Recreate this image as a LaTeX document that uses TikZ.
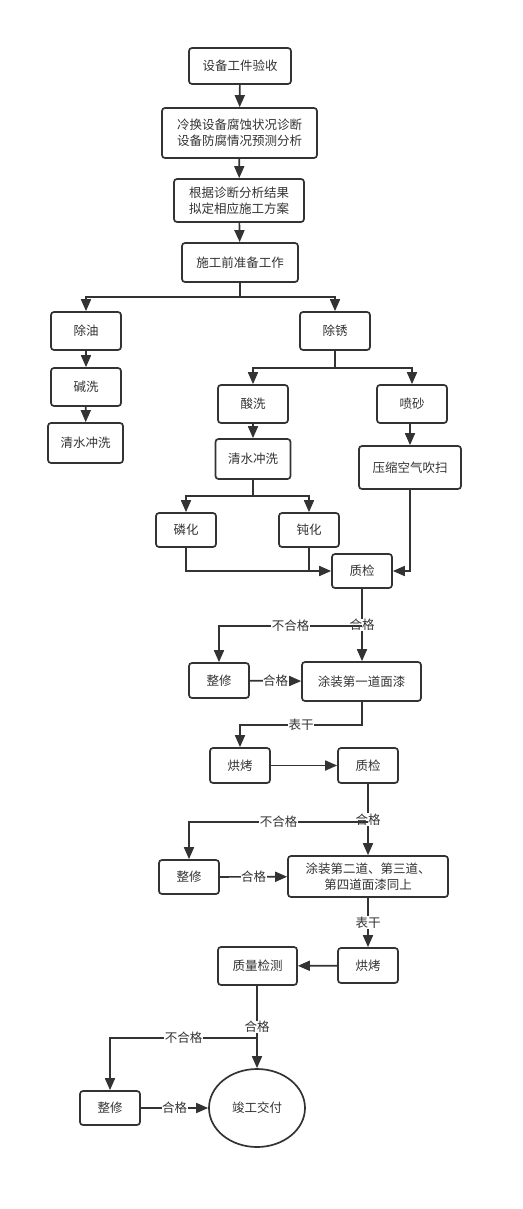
\documentclass[tikz,border=0pt]{standalone}
\usepackage{fontspec}
\setmainfont{Noto Sans CJK SC}
\usetikzlibrary{arrows.meta,shapes.geometric}
\definecolor{ln}{HTML}{333333}
\tikzset{
  box/.style={draw=ln, rounded corners=3pt, line width=1.7pt, inner sep=0pt, align=center,
    font=\fontsize{12.5}{16}\selectfont, text=ln},
  lab/.style={fill=white, inner sep=0.5pt, font=\fontsize{12.5}{15}\selectfont, text=ln},
  conn/.style={draw=ln, line width=1.7pt},
  arr/.style={conn, -{Triangle[length=12pt,width=10pt]}}
}
\begin{document}
\begin{tikzpicture}[x=1pt,y=-1pt]
\useasboundingbox (0,0) rectangle (522,1209);
\fill[white] (0,0) rectangle (522,1209);
% nodes
\node[box, minimum width=102pt, minimum height=36pt] (n1) at (240,66) {设备工件验收};
\node[box, minimum width=155pt, minimum height=50pt] (n2) at (239.5,133) {冷换设备腐蚀状况诊断\\设备防腐情况预测分析};
\node[box, minimum width=130pt, minimum height=43pt] (n3) at (239,200.5) {根据诊断分析结果\\拟定相应施工方案};
\node[box, minimum width=116pt, minimum height=39pt] (n4) at (240,262.5) {施工前准备工作};
\node[box, minimum width=70pt, minimum height=38pt] (cy) at (86,331) {除油};
\node[box, minimum width=70pt, minimum height=38pt] (jx) at (86,387) {碱洗};
\node[box, minimum width=75pt, minimum height=40pt] (qs1) at (85.5,443) {清水冲洗};
\node[box, minimum width=70pt, minimum height=38pt] (cx) at (335,331) {除锈};
\node[box, minimum width=70pt, minimum height=38pt] (sx) at (253,404) {酸洗};
\node[box, minimum width=70pt, minimum height=38pt] (ps) at (412,404) {喷砂};
\node[box, minimum width=75pt, minimum height=40pt] (qs2) at (253,459) {清水冲洗};
\node[box, minimum width=102pt, minimum height=43pt] (ys) at (410,467.5) {压缩空气吹扫};
\node[box, minimum width=60pt, minimum height=34pt] (lh) at (186,530) {磷化};
\node[box, minimum width=60pt, minimum height=34pt] (dh) at (309,530) {钝化};
\node[box, minimum width=60pt, minimum height=34pt] (zj1) at (362,571) {质检};
\node[box, minimum width=60pt, minimum height=35pt] (zx1) at (219,680.5) {整修};
\node[box, minimum width=119pt, minimum height=39pt] (tz1) at (361.5,681.5) {涂装第一道面漆};
\node[box, minimum width=60pt, minimum height=35pt] (hk1) at (240,765.5) {烘烤};
\node[box, minimum width=60pt, minimum height=35pt] (zj2) at (368,765.5) {质检};
\node[box, minimum width=60pt, minimum height=34pt] (zx2) at (189,877) {整修};
\node[box, minimum width=160pt, minimum height=41pt] (tz2) at (368,876.5) {涂装第二道、第三道、\\第四道面漆同上};
\node[box, minimum width=60pt, minimum height=35pt] (hk2) at (368,965.5) {烘烤};
\node[box, minimum width=79pt, minimum height=38pt] (zl) at (257.5,966) {质量检测};
\node[box, minimum width=60pt, minimum height=34pt] (zx3) at (110,1108) {整修};
\node[box, ellipse, minimum width=96pt, minimum height=78pt] (jg) at (257,1108) {竣工交付};
% branch points
\coordinate (b1) at (240,297);
\coordinate (b2) at (335,368);
\coordinate (b3) at (253,496);
\coordinate (c1) at (362,626);
\coordinate (c2) at (368,822);
\coordinate (c3) at (257,1038);
\coordinate (d1) at (362,725);
% connectors
\draw[arr] (n1) -- (n2);
\draw[arr] (n2) -- (n3);
\draw[arr] (n3) -- (n4);
\draw[conn] (n4) -- (b1);
\draw[arr] (b1) -| (cy);
\draw[arr] (b1) -| (cx);
\draw[arr] (cy) -- (jx);
\draw[arr] (jx) -- (qs1);
\draw[conn] (cx) -- (b2);
\draw[arr] (b2) -| (sx);
\draw[arr] (b2) -| (ps);
\draw[arr] (sx) -- (qs2);
\draw[arr] (ps.south -| ys.north) -- (ys.north);
\draw[conn] (qs2) -- (b3);
\draw[arr] (b3) -| (lh);
\draw[arr] (b3) -| (dh);
\draw[arr] (lh.south) |- (zj1.west);
\draw[conn] (dh.south) -- (dh.south |- zj1.west);
\draw[arr] (ys.south) |- (zj1.east);
\draw[arr] (zj1.south) -- (zj1.south |- tz1.north) node[lab, midway] {合格};
\draw[arr] (c1) -| node[lab, pos=0.25] {不合格} (zx1.north);
\draw[arr] (zx1) -- (tz1) node[lab, midway] {合格};
\draw[arr] (tz1.south -| d1) -- (d1) -| node[lab, pos=0.25] {表干} (hk1.north);
\draw[arr] (hk1) -- (zj2);
\draw[arr] (zj2.south) -- (tz2.north -| zj2.south) node[lab, midway] {合格};
\draw[arr] (c2) -| node[lab, pos=0.25] {不合格} (zx2.north);
\draw[arr] (zx2) -- (tz2) node[lab, midway] {合格};
\draw[arr] (tz2) -- (hk2) node[lab, midway] {表干};
\draw[arr] (hk2) -- (zl);
\draw[arr] (zl.south -| c3) -- (jg.north -| c3) node[lab, midway] {合格};
\draw[arr] (c3) -| node[lab, pos=0.25] {不合格} (zx3.north);
\draw[arr] (zx3) -- (jg) node[lab, midway] {合格};
\end{tikzpicture}
\end{document}
